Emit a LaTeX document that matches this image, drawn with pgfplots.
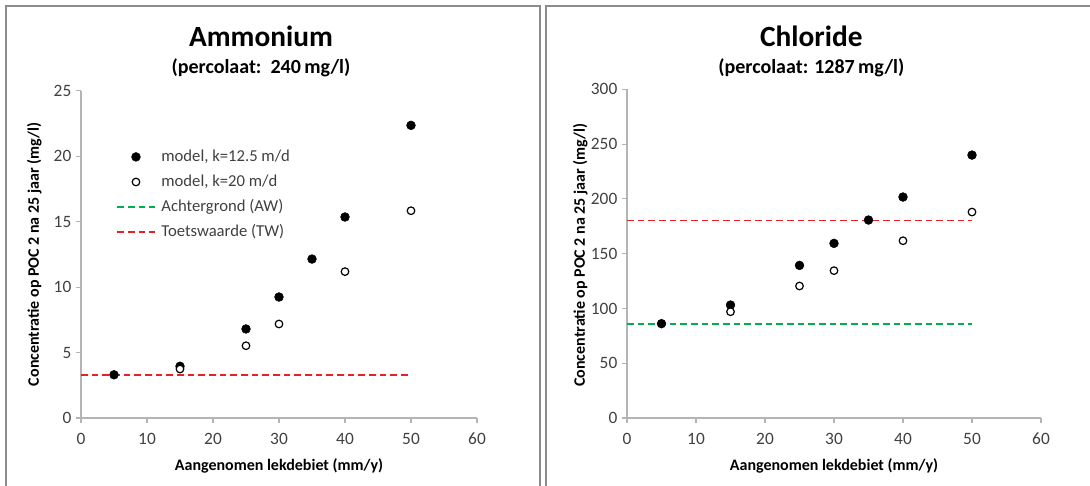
\documentclass[border=0pt]{standalone}
\usepackage{pgfplots}
\pgfplotsset{compat=1.18}
\usepackage{fontspec}
\setmainfont{Carlito}

\definecolor{tickgray}{RGB}{64,64,64}
\definecolor{axisgray}{RGB}{180,180,180}
\definecolor{framegray}{RGB}{140,140,140}
\definecolor{twred}{RGB}{235,30,35}
\definecolor{awgreen}{RGB}{0,176,80}

\pgfplotsset{
  panel/.style={
    scale only axis,
    anchor=origin,
    xmin=0, xmax=60,
    xtick={0,10,...,60},
    axis x line*=bottom,
    axis y line*=left,
    axis line style={color=axisgray, line width=0.8pt},
    tick style={color=axisgray, line width=0.8pt},
    tick align=outside,
    major tick length=3.75pt,
    minor tick num=0,
    tick label style={font=\fontsize{13}{15}\selectfont, color=tickgray},
    xticklabel style={yshift=-4pt},
    /pgf/number format/assume math mode=true,
    /pgf/number format/1000 sep={},
    every axis x label/.style={at={(axis description cs:0.5,0)}, yshift=-36pt, anchor=center},
    every axis y label/.style={at={(axis description cs:0,0.5)}, xshift=-35pt, rotate=90, anchor=center},
    label style={font=\bfseries\fontsize{12}{14}\selectfont},
    xlabel={Aangenomen lekdebiet (mm/y)},
    ylabel={Concentratie op POC 2 na 25 jaar (mg/l)},
    clip=false,
  },
  filled/.style={only marks, mark=*, mark size=3.3pt, mark options={draw=black, fill=black}},
  open/.style={only marks, mark=*, mark size=2.85pt, mark options={draw=black, fill=white, line width=0.9pt}},
  refline/.style={line width=1.1pt, dash pattern=on 5pt off 3pt, no marks},
}

\begin{document}
\begin{tikzpicture}[x=1pt,y=1pt]
\useasboundingbox (0,0) rectangle (817.5,364.5);

% frames round the two panels
\draw[framegray, line width=1.1pt] (4.5,-2) -- (4.5,360) -- (405,360) -- (405,-2);
\draw[framegray, line width=1.1pt] (409.5,-2) -- (409.5,360) -- (820,360);

% titles
\node[font=\bfseries\fontsize{22}{26}\selectfont] at (195.75,337.5) {Ammonium};
\node[font=\bfseries\fontsize{15}{18}\selectfont] at (195.75,313.5) {(percolaat:\ \ 240\,mg/l)};
\node[font=\bfseries\fontsize{22}{26}\selectfont] at (608.5,337.5) {Chloride};
\node[font=\bfseries\fontsize{15}{18}\selectfont] at (608.5,313.5) {(percolaat: 1287\,mg/l)};

% Ammonium
\begin{axis}[panel,
  at={(60.75pt,51pt)},
  width=297pt, height=245.5pt,
  ymin=0, ymax=25, ytick={0,5,...,25},
  legend cell align=left,
  legend style={draw=none, fill=none, inner sep=0pt,
    at={(axis cs:5.35,20.75)}, anchor=north west,
    font=\fontsize{12.5}{15}\selectfont,
    nodes={text height=9.5pt, text depth=3pt, inner sep=1.5pt},
    row sep=3.3pt, column sep=3pt},
  legend image code/.code={\draw[mark repeat=2, mark phase=2, #1] plot coordinates {(0pt,0pt) (14pt,0pt) (28pt,0pt)};},
]
\addplot[refline, color=twred, forget plot] coordinates {(0,3.3) (50,3.3)};
\addplot[filled] coordinates {(5,3.3) (15,3.95) (25,6.8) (30,9.24) (35,12.14) (40,15.35) (50,22.35)};
\addplot[open] coordinates {(15,3.74) (25,5.52) (30,7.18) (40,11.18) (50,15.83)};
\addlegendimage{refline, draw=awgreen}
\addlegendimage{refline, draw=twred}
\legend{\textcolor{tickgray}{model, k=12.5 m/d}, \textcolor{tickgray}{model, k=20 m/d}, \textcolor{tickgray}{Achtergrond (AW)}, \textcolor{tickgray}{Toetswaarde (TW)}}
\end{axis}

% Chloride
\begin{axis}[panel,
  at={(470.25pt,51pt)},
  width=310.5pt, height=246.5pt,
  ymin=0, ymax=300, ytick={0,50,...,300},
  ylabel style={xshift=-1pt},
]
\addplot[refline, color=awgreen] coordinates {(0,86) (50,86)};
\addplot[refline, color=twred] coordinates {(0,180.4) (50,180.4)};
\addplot[filled] coordinates {(5,86.1) (15,103.1) (25,139.3) (30,159.4) (35,180.7) (40,201.7) (50,240)};
\addplot[open] coordinates {(15,97) (25,120.5) (30,134.5) (40,161.8) (50,188)};
\end{axis}
\end{tikzpicture}
\end{document}
